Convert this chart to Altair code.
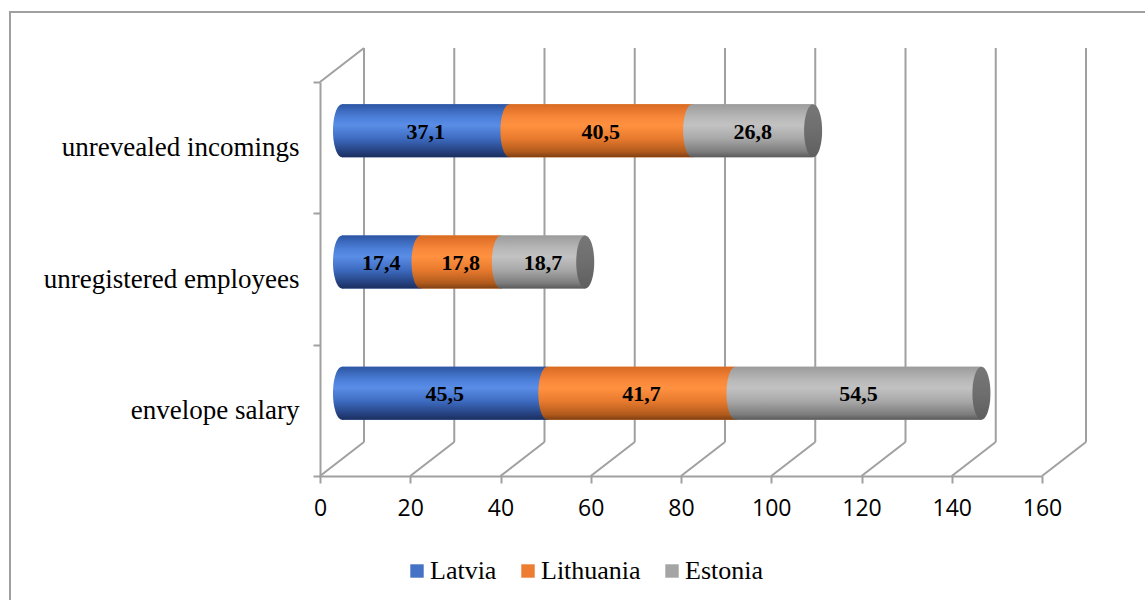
import altair as alt
import pandas as pd

# ---- data ----
categories = ["unrevealed incomings", "unregistered employees", "envelope salary"]
countries = ["Latvia", "Lithuania", "Estonia"]
latvia = [37.1, 17.4, 45.5]
lithuania = [40.5, 17.8, 41.7]
estonia = [26.8, 18.7, 54.5]
x_ticks = [0, 20, 40, 60, 80, 100, 120, 140, 160]
colors = ["#4472C4", "#ED7D31", "#A5A5A5"]

# ---- layout constants ----
W, H = 722, 394
DX, DY = 44, -34          # depth offset of back wall
MX, MY = DX / 2, DY / 2   # bars sit in the middle of the depth
BAR = 53
GRID = "#a0a0a0"

rows = []
for i, cat in enumerate(categories):
    for j, (country, vals) in enumerate(zip(countries, [latvia, lithuania, estonia])):
        rows.append(dict(category=cat, country=country, order=j, value=vals[i],
                         label=f"{vals[i]:.1f}".replace(".", ",")))
df = pd.DataFrame(rows)
grid_df = pd.DataFrame({"v": x_ticks})

xscale = alt.Scale(domain=[0, 160], nice=False, zero=True)
yscale = alt.Scale(domain=categories, paddingInner=0, paddingOuter=0)

base = alt.Chart(df).transform_stack(
    stack="value", groupby=["category"], as_=["x0", "x1"],
    sort=[alt.SortField("order", order="ascending")]
).transform_calculate(mid="(datum.x0 + datum.x1) / 2")

# wall / floor decorations
frame = alt.Chart(grid_df).mark_rect(fill=None, stroke="#a0a0a0", strokeWidth=1.5).encode(
    x=alt.value(-310), x2=alt.value(830), y=alt.value(-70), y2=alt.value(525))
back_grid = alt.Chart(grid_df).mark_rule(color=GRID, strokeWidth=2, xOffset=DX).encode(
    x=alt.X("v:Q", scale=xscale), y=alt.value(DY), y2=alt.value(H + DY))
floor = alt.Chart(grid_df).mark_rule(color=GRID, strokeWidth=2, xOffset=0, x2Offset=DX).encode(
    x=alt.X("v:Q", scale=xscale), x2="v:Q", y=alt.value(H), y2=alt.value(H + DY))
top_diag = alt.Chart(grid_df.head(1)).mark_rule(color=GRID, strokeWidth=2, xOffset=0, x2Offset=DX).encode(
    x=alt.X("v:Q", scale=xscale), x2="v:Q", y=alt.value(0), y2=alt.value(DY))

# legend/base bars (flat colours, covered by gradient cylinders)
flat = base.mark_bar(size=BAR, xOffset=MX, x2Offset=MX, yOffset=MY, y2Offset=MY).encode(
    x=alt.X("x0:Q", scale=xscale,
            axis=alt.Axis(values=x_ticks, title=None, grid=False, domainColor=GRID,
                          domainWidth=2, tickColor=GRID, tickWidth=2, tickSize=7,
                          labelFont="Open Sans", labelFontSize=23, labelColor="#000",
                          labelPadding=14, labelFlush=False, labelOverlap=False,
                          labelBound=False)),
    x2="x1:Q",
    y=alt.Y("category:N", scale=yscale, sort=categories,
            axis=alt.Axis(title=None, domainColor=GRID, domainWidth=2, tickColor=GRID,
                          tickWidth=2, tickSize=7, tickBand="extent",
                          labelFont="Liberation Serif", labelFontSize=27, labelColor="#000",
                          labelPadding=14, labelLimit=400)),
    color=alt.Color("country:N", scale=alt.Scale(domain=countries, range=colors),
                    sort=countries,
                    legend=alt.Legend(title=None, orient="none", direction="horizontal",
                                      legendX=84, legendY=476, symbolType="square",
                                      symbolSize=180, symbolStrokeWidth=0,
                                      labelFont="Liberation Serif", labelFontSize=26,
                                      labelColor="#000", columnPadding=18, labelOffset=0)),
)

grads = [
    ["#2d56a3", "#4c7fd9", "#5a8de6", "#3d6bc0", "#243f7c", "#1b2f5e"],
    ["#d86a22", "#f8873a", "#ff9140", "#e87a2e", "#b05a1c", "#7e3f12"],
    ["#9c9c9c", "#b8b8b8", "#c2c2c2", "#a8a8a8", "#7c7c7c", "#5a5a5a"],
]
offs = [0, 0.25, 0.4, 0.65, 0.9, 1]


def grad(cols):
    return alt.LinearGradient(
        gradient="linear", x1=0, y1=0, x2=0, y2=1,
        stops=[alt.GradientStop(color=c, offset=o) for c, o in zip(cols, offs)])


k = 0.5523
a = 0.34
ellipse = (f"M{a},0 C{a},{k} {k*a:.4f},1 0,1 C{-k*a:.4f},1 {-a},{k} {-a},0 "
           f"C{-a},{-k} {-k*a:.4f},-1 0,-1 C{k*a:.4f},-1 {a},{-k} {a},0 Z")
ysize = BAR * BAR

layers = [frame, back_grid, floor, top_diag, flat]
for j, country in enumerate(countries):
    sub = base.transform_filter(alt.datum.country == country)
    cap = sub.mark_point(shape=ellipse, size=ysize, filled=True, fill=grad(grads[j]),
                         strokeWidth=0, opacity=1, xOffset=MX, yOffset=MY).encode(
        x=alt.X("x0:Q", scale=xscale), y=alt.Y("category:N", scale=yscale, sort=categories))
    body = sub.mark_bar(size=BAR, color=grad(grads[j]), xOffset=MX, x2Offset=MX,
                        yOffset=MY, y2Offset=MY).encode(
        x=alt.X("x0:Q", scale=xscale), x2="x1:Q",
        y=alt.Y("category:N", scale=yscale, sort=categories))
    layers += [cap, body]

end_cap = base.transform_filter(alt.datum.country == countries[-1]).mark_point(
    shape=ellipse, size=ysize, filled=True, strokeWidth=0, opacity=1,
    fill=alt.LinearGradient(gradient="linear", x1=0, y1=0, x2=0, y2=1,
                            stops=[alt.GradientStop(color="#777777", offset=0),
                                   alt.GradientStop(color="#6e6e6e", offset=0.5),
                                   alt.GradientStop(color="#5e5e5e", offset=1)]),
    xOffset=MX, yOffset=MY).encode(
    x=alt.X("x1:Q", scale=xscale), y=alt.Y("category:N", scale=yscale, sort=categories))

text = base.mark_text(font="Liberation Serif", fontSize=22, fontWeight="bold", color="#000",
                      xOffset=MX, yOffset=MY + 1).encode(
    x=alt.X("mid:Q", scale=xscale), y=alt.Y("category:N", scale=yscale, sort=categories),
    text="label:N")

layers += [end_cap, text]

chart = alt.layer(*layers).properties(
    width=W, height=H,
    background="white",
    autosize=alt.AutoSizeParams(type="none"),
    padding={"left": 320, "top": 82, "right": 103, "bottom": 124},
).configure_view(stroke=None)

chart.save("out.html", embed_options={"renderer": "svg", "actions": False})
